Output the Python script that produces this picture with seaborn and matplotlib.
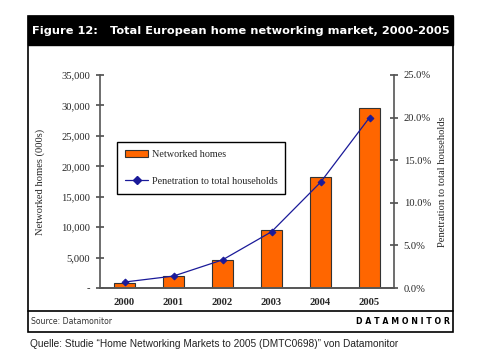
import matplotlib
matplotlib.use("Agg")
import matplotlib.pyplot as plt
import seaborn as sns
import pandas as pd
from matplotlib.patches import Rectangle, Patch
from matplotlib.lines import Line2D
from matplotlib.ticker import FuncFormatter

years = ["2000", "2001", "2002", "2003", "2004", "2005"]
networked_homes = [800, 1900, 4600, 9600, 18300, 29500]
penetration = [0.7, 1.4, 3.3, 6.6, 12.4, 20.0]
left_ticks = [0, 5000, 10000, 15000, 20000, 25000, 30000, 35000]
right_ticks = [0, 5, 10, 15, 20, 25]

df = pd.DataFrame({"year": years, "homes": networked_homes, "pen": penetration})

sns.set_theme(style="white")
plt.rcParams["font.family"] = ["Liberation Serif", "DejaVu Serif"]

W, H = 480, 356
fig = plt.figure(figsize=(W / 100, H / 100), dpi=100)

def fx(px):
    return px / W

def fy(py):
    return 1 - py / H

# frame and header
fig.patches.append(Rectangle((fx(28), fy(332)), fx(453) - fx(28), fy(16) - fy(332),
                             transform=fig.transFigure, fill=False, edgecolor="black", lw=1.2))
fig.patches.append(Rectangle((fx(28), fy(45)), fx(453) - fx(28), fy(16) - fy(45),
                             transform=fig.transFigure, facecolor="black", edgecolor="black"))
fig.lines.append(Line2D([fx(28), fx(453)], [fy(311), fy(311)], transform=fig.transFigure,
                        color="black", lw=1.2))
fig.text(fx(32), fy(30.5), "Figure 12:",
         color="white", fontsize=8.2, fontweight="bold", family="DejaVu Sans", va="center", ha="left")
fig.text(fx(450), fy(30.5), "Total European home networking market, 2000-2005",
         color="white", fontsize=8.2, fontweight="bold", family="DejaVu Sans", va="center", ha="right")
fig.text(fx(31), fy(322), "Source: Datamonitor", fontsize=5.6, family="DejaVu Sans",
         color="#333333", va="center", ha="left")
fig.text(fx(450), fy(322), "D A T A M O N I T O R", fontsize=5.7, family="DejaVu Sans",
         fontweight="bold", color="black", va="center", ha="right")
fig.text(fx(30), fy(344), "Quelle: Studie \u201cHome Networking Markets to 2005 (DMTC0698)\u201d von Datamonitor",
         fontsize=7.3, family="Liberation Sans", color="#222222", va="center", ha="left")

ax = fig.add_axes([fx(100), fy(288), fx(394) - fx(100), fy(75) - fy(288)])
sns.barplot(data=df, x="year", y="homes", ax=ax, color="#FF6600", width=0.41,
            edgecolor="#333333", linewidth=0.8, saturation=1)
ax.set_ylim(0, 35000)
ax.set_yticks(left_ticks)
ax.yaxis.set_major_formatter(FuncFormatter(lambda v, p: "-" if v == 0 else f"{int(v):,}"))
ax.set_xlabel("")
ax.set_ylabel("Networked homes (000s)", fontsize=7.6, labelpad=12)

ax2 = ax.twinx()
sns.pointplot(data=df, x="year", y="pen", ax=ax2, color="#1a1a99", markers="D",
              linestyles="-", markersize=3.5, linewidth=0.9)
ax2.set_ylim(0, 25)
ax2.set_yticks(right_ticks)
ax2.yaxis.set_major_formatter(FuncFormatter(lambda v, p: f"{v:.1f}%"))
ax2.set_xlabel("")
ax2.set_ylabel("Penetration to total households", fontsize=7.6, labelpad=5)

for a in (ax, ax2):
    a.set_xlim(-0.5, 5.5)
    a.set_facecolor("none")
    a.spines["top"].set_visible(False)
    for s in ("left", "right", "bottom"):
        a.spines[s].set_color("#555555")
        a.spines[s].set_linewidth(1.2)
    a.grid(False)

ax.spines["right"].set_visible(False)
ax2.spines["left"].set_visible(False)

ax.set_xticks([i + 0.5 for i in range(-1, 6)], minor=True)
ax.tick_params(axis="x", which="major", length=0, labelsize=7.6, pad=7)
ax.tick_params(axis="x", which="minor", direction="inout", length=6, color="#555555", width=1)
for lbl in ax.get_xticklabels():
    lbl.set_fontweight("bold")
ax.tick_params(axis="y", direction="inout", length=6, color="#555555", labelsize=7.6, left=True, pad=4)
ax2.tick_params(axis="y", direction="inout", length=6, color="#555555", labelsize=7.6, right=True, pad=4)
ax2.tick_params(axis="x", length=0)

handles = [Patch(facecolor="#FF6600", edgecolor="#333333", linewidth=0.8),
           Line2D([], [], color="#1a1a99", marker="D", markersize=4, lw=0.9)]
leg = ax2.legend(handles, ["Networked homes", "Penetration to total households"],
                 loc="upper left", bbox_to_anchor=(0.058, 0.685), borderaxespad=0, fontsize=7.3,
                 frameon=True, fancybox=False, edgecolor="black", framealpha=1,
                 labelspacing=1.7, handlelength=2.3, handletextpad=0.3, borderpad=0.8)
leg.get_frame().set_linewidth(1.0)

fig.savefig("out.png", dpi=100)
